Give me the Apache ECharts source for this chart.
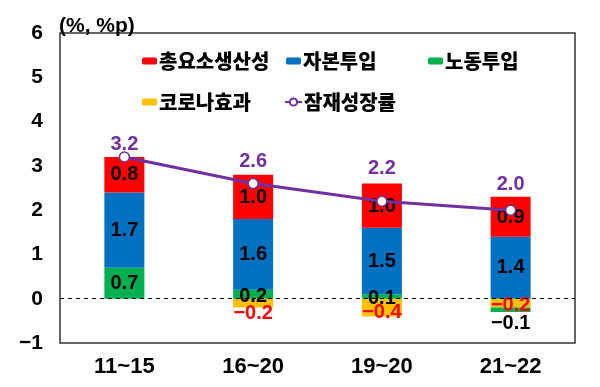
<!DOCTYPE html>
<html>
<head>
<meta charset="utf-8">
<script src="https://cdn.jsdelivr.net/npm/echarts@6/dist/echarts.min.js"></script>
<style>
html,body{margin:0;padding:0;background:#fff;}
#chart{width:600px;height:387px;}
</style>
</head>
<body>
<div id="chart"></div>
<script>
// ---- data ----
const categories = ['11~15', '16~20', '19~20', '21~22'];
const tfp = [0.8, 1.0, 1.0, 0.9];        // 총요소생산성
const capital = [1.7, 1.6, 1.5, 1.4];    // 자본투입
const labor = [0.7, 0.2, 0.1, -0.1];     // 노동투입
const covid = [0, -0.2, -0.4, -0.2];     // 코로나효과
const potential = [3.2, 2.6, 2.2, 2.0];  // 잠재성장률
const yTicks = [-1, 0, 1, 2, 3, 4, 5, 6];
const unitLabel = '(%, %p)';

// ---- styles ----
const NUM_FONT = "'Liberation Sans', Arial, sans-serif";
const KR_FONT = "'Noto Sans CJK KR', sans-serif";
const fmt = v => (v < 0 ? '\u2212' + Math.abs(v).toFixed(1) : v.toFixed(1));

const barDefs = [
  { name: '코로나효과', values: covid, color: '#FFC000', labelColor: '#FF0000' },
  { name: '노동투입', values: labor, color: '#00B050', labelColor: '#000' },
  { name: '자본투입', values: capital, color: '#0070C0', labelColor: '#000' },
  { name: '총요소생산성', values: tfp, color: '#FF0000', labelColor: '#000' }
];
const labelShift = {
  '코로나효과': [0, 10, 5, 2],
  '노동투입': [0, 2, 2, 14],
  '자본투입': [0, 0, 0, 0],
  '총요소생산성': [0, 1, 1, 1]
};
const lineLabelShift = [3, -6, -17, -10];

const barSeries = barDefs.map(d => ({
  name: d.name,
  type: 'bar',
  stack: 'total',
  barWidth: 40,
  itemStyle: { color: d.color },
  data: d.values.map((v, i) => ({
    value: v,
    label: {
      show: v !== 0,
      position: 'inside',
      offset: [0, labelShift[d.name][i]],
      color: d.labelColor,
      fontWeight: 'bold',
      fontSize: 20,
      fontFamily: NUM_FONT,
      formatter: () => fmt(v)
    }
  }))
}));

const lineSeries = {
  name: '잠재성장률',
  type: 'line',
  z: 5,
  symbol: 'circle',
  symbolSize: 10,
  lineStyle: { color: '#7030A0', width: 3 },
  itemStyle: { color: '#fff', borderColor: '#7030A0', borderWidth: 1.5 },
  data: potential.map((v, i) => ({
    value: v,
    label: {
      show: true,
      position: 'top',
      distance: 0,
      offset: [0, lineLabelShift[i]],
      color: '#7030A0',
      fontWeight: 'bold',
      fontSize: 20,
      fontFamily: NUM_FONT,
      formatter: () => v.toFixed(1)
    }
  })),
  markLine: {
    silent: true,
    symbol: ['none', 'none'],
    label: { show: false },
    lineStyle: { color: '#000', type: [4, 4], width: 1.2 },
    data: [{ yAxis: 0 }]
  }
};

const legendBase = {
  orient: 'horizontal',
  padding: 0,
  itemWidth: 15,
  itemHeight: 7,
  textStyle: { fontSize: 20, fontWeight: 900, fontFamily: KR_FONT, color: '#000', padding: [0, 0, 0, -3] }
};
const legends = [
  Object.assign({}, legendBase, { data: ['총요소생산성'], left: 142, top: 51 }),
  Object.assign({}, legendBase, { data: ['자본투입'], left: 286, top: 51 }),
  Object.assign({}, legendBase, { data: ['노동투입'], left: 428, top: 51 }),
  Object.assign({}, legendBase, { data: ['코로나효과'], left: 142, top: 92 }),
  Object.assign({}, legendBase, { data: ['잠재성장률'], left: 284, top: 92, itemWidth: 17, itemHeight: 9 })
];

const chart = echarts.init(document.getElementById('chart'), null, { renderer: 'canvas' });
chart.setOption({
  animation: false,
  backgroundColor: '#fff',
  title: {
    text: unitLabel,
    left: 54, top: 11,
    textStyle: { fontSize: 21, fontWeight: 'bold', fontFamily: NUM_FONT, color: '#000' }
  },
  legend: legends,
  grid: {
    left: 60, right: 25, top: 33, bottom: 44,
    show: true, borderColor: '#333', borderWidth: 1.5, backgroundColor: 'transparent',
    containLabel: false
  },
  xAxis: {
    type: 'category',
    data: categories,
    axisLine: { show: false },
    axisTick: { show: false },
    axisLabel: { margin: 13, fontSize: 22, fontWeight: 'bold', fontFamily: NUM_FONT, color: '#000' }
  },
  yAxis: {
    type: 'value',
    min: yTicks[0], max: yTicks[yTicks.length - 1], interval: 1,
    splitLine: { show: false },
    axisLine: { show: false },
    axisTick: { show: false },
    axisLabel: {
      margin: 17, fontSize: 21, fontWeight: 'bold', fontFamily: NUM_FONT, color: '#000',
      formatter: v => String(v).replace('-', '\u2212')
    }
  },
  series: barSeries.concat([lineSeries])
});
</script>
</body>
</html>
